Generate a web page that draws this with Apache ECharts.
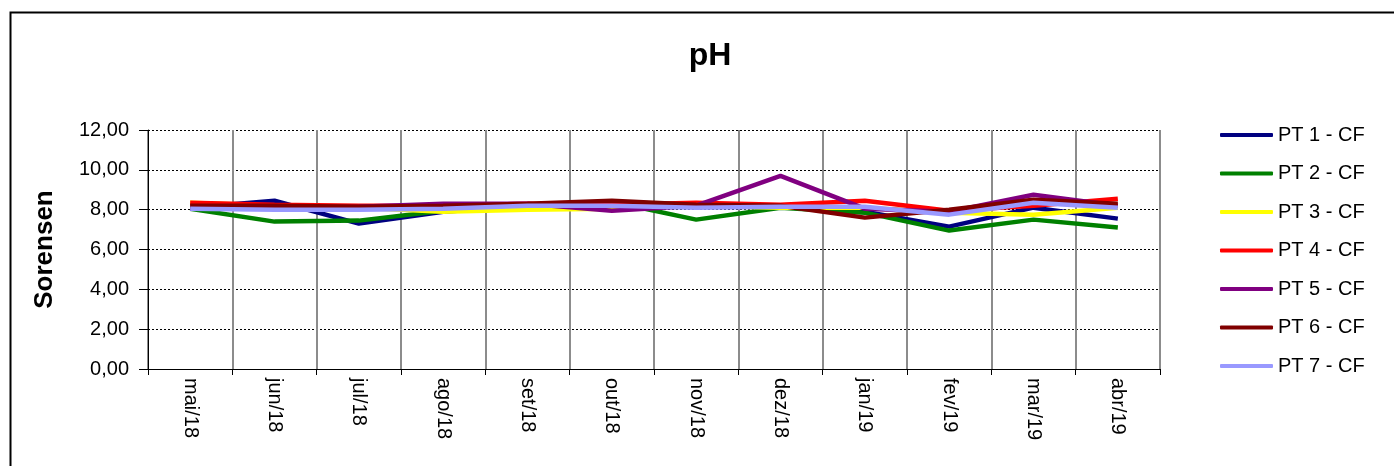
<!DOCTYPE html>
<html>
<head>
<meta charset="utf-8">
<script src="https://cdn.jsdelivr.net/npm/echarts@6/dist/echarts.min.js"></script>
<style>
  html, body { margin: 0; padding: 0; background: #fff; }
  #chart { width: 1394px; height: 466px; }
</style>
</head>
<body>
<div id="chart"></div>
<script>
// categorias (meses)
var months = ['mai/18', 'jun/18', 'jul/18', 'ago/18', 'set/18', 'out/18', 'nov/18', 'dez/18', 'jan/19', 'fev/19', 'mar/19', 'abr/19'];
var yTicks = [0, 2, 4, 6, 8, 10, 12];

var pt1 = [8.10, 8.45, 7.30, 7.90, 8.20, 8.30, 8.20, 8.20, 7.90, 7.15, 8.10, 7.55];
var pt2 = [8.05, 7.40, 7.45, 7.95, 8.25, 8.40, 7.50, 8.10, 7.85, 6.95, 7.50, 7.10];
var pt3 = [8.35, 8.20, 8.10, 7.90, 8.00, 8.05, 8.20, 8.10, 8.10, 7.85, 7.75, 8.10];
var pt4 = [8.35, 8.25, 8.20, 8.20, 8.30, 8.25, 8.35, 8.25, 8.45, 7.95, 8.20, 8.55];
var pt5 = [8.05, 8.10, 8.15, 8.30, 8.30, 7.95, 8.20, 9.70, 8.05, 7.90, 8.75, 8.20];
var pt6 = [8.20, 8.20, 8.15, 8.20, 8.30, 8.45, 8.25, 8.20, 7.60, 8.00, 8.50, 8.30];
var pt7 = [8.05, 8.00, 8.00, 8.05, 8.20, 8.20, 8.10, 8.15, 8.15, 7.75, 8.35, 8.10];

var names = ['PT 1 - CF', 'PT 2 - CF', 'PT 3 - CF', 'PT 4 - CF', 'PT 5 - CF', 'PT 6 - CF', 'PT 7 - CF'];
var values = [pt1, pt2, pt3, pt4, pt5, pt6, pt7];
var colors = ['#000080', '#008000', '#ffff00', '#ff0000', '#800080', '#800000', '#9999ff'];

var myChart = echarts.init(document.getElementById('chart'));

var series = [];
for (var i = 0; i < names.length; i++) {
  series.push({
    name: names[i],
    type: 'line',
    data: values[i],
    showSymbol: false,
    symbol: 'none',
    lineStyle: { width: 4.5, color: colors[i] },
    itemStyle: { color: colors[i] },
    animation: false
  });
}

var option = {
  backgroundColor: '#fff',
  textStyle: { fontFamily: 'Liberation Sans, Arial, sans-serif' },
  title: {
    text: 'pH',
    left: 710,
    top: 40,
    padding: 0,
    textAlign: 'center',
    textStyle: { fontSize: 32, fontWeight: 'bold', color: '#000', fontFamily: 'Liberation Sans, Arial, sans-serif' }
  },
  graphic: [
    {
      type: 'rect',
      shape: { x: 10.5, y: 12.5, width: 1500, height: 600 },
      style: { fill: 'none', stroke: '#000', lineWidth: 2 },
      silent: true,
      z: -1
    }
  ],
  legend: {
    orient: 'vertical',
    left: 1220,
    top: 125,
    padding: 0,
    itemWidth: 53,
    itemHeight: 4,
    itemGap: 18.5,
    icon: 'roundRect',
    data: names,
    textStyle: { fontSize: 20, color: '#000', fontFamily: 'Liberation Sans, Arial, sans-serif' }
  },
  grid: {
    left: 148,
    right: 234,
    top: 130,
    bottom: 97
  },
  xAxis: {
    type: 'category',
    data: months,
    boundaryGap: true,
    axisLine: { lineStyle: { color: '#000', width: 1 } },
    axisTick: { show: true, length: 6, lineStyle: { color: '#000' } },
    axisLabel: { rotate: -90, fontSize: 20, color: '#000', margin: 9 },
    splitLine: { show: true, lineStyle: { color: '#8c8c8c', width: 2 } }
  },
  yAxis: {
    type: 'value',
    min: yTicks[0],
    max: yTicks[yTicks.length - 1],
    interval: 2,
    name: 'Sorensen',
    nameLocation: 'middle',
    nameGap: 90,
    nameTextStyle: { fontSize: 26, fontWeight: 'bold', color: '#000' },
    axisLine: { show: true, lineStyle: { color: '#000', width: 1 } },
    axisTick: { show: true, length: 9, lineStyle: { color: '#000' } },
    axisLabel: {
      fontSize: 20,
      color: '#000',
      margin: 19,
      formatter: function (v) { return v.toFixed(2).replace('.', ','); }
    },
    splitLine: { show: true, lineStyle: { color: '#000', type: [2, 2], width: 1 } }
  },
  series: series
};

myChart.setOption(option);
</script>
</body>
</html>
